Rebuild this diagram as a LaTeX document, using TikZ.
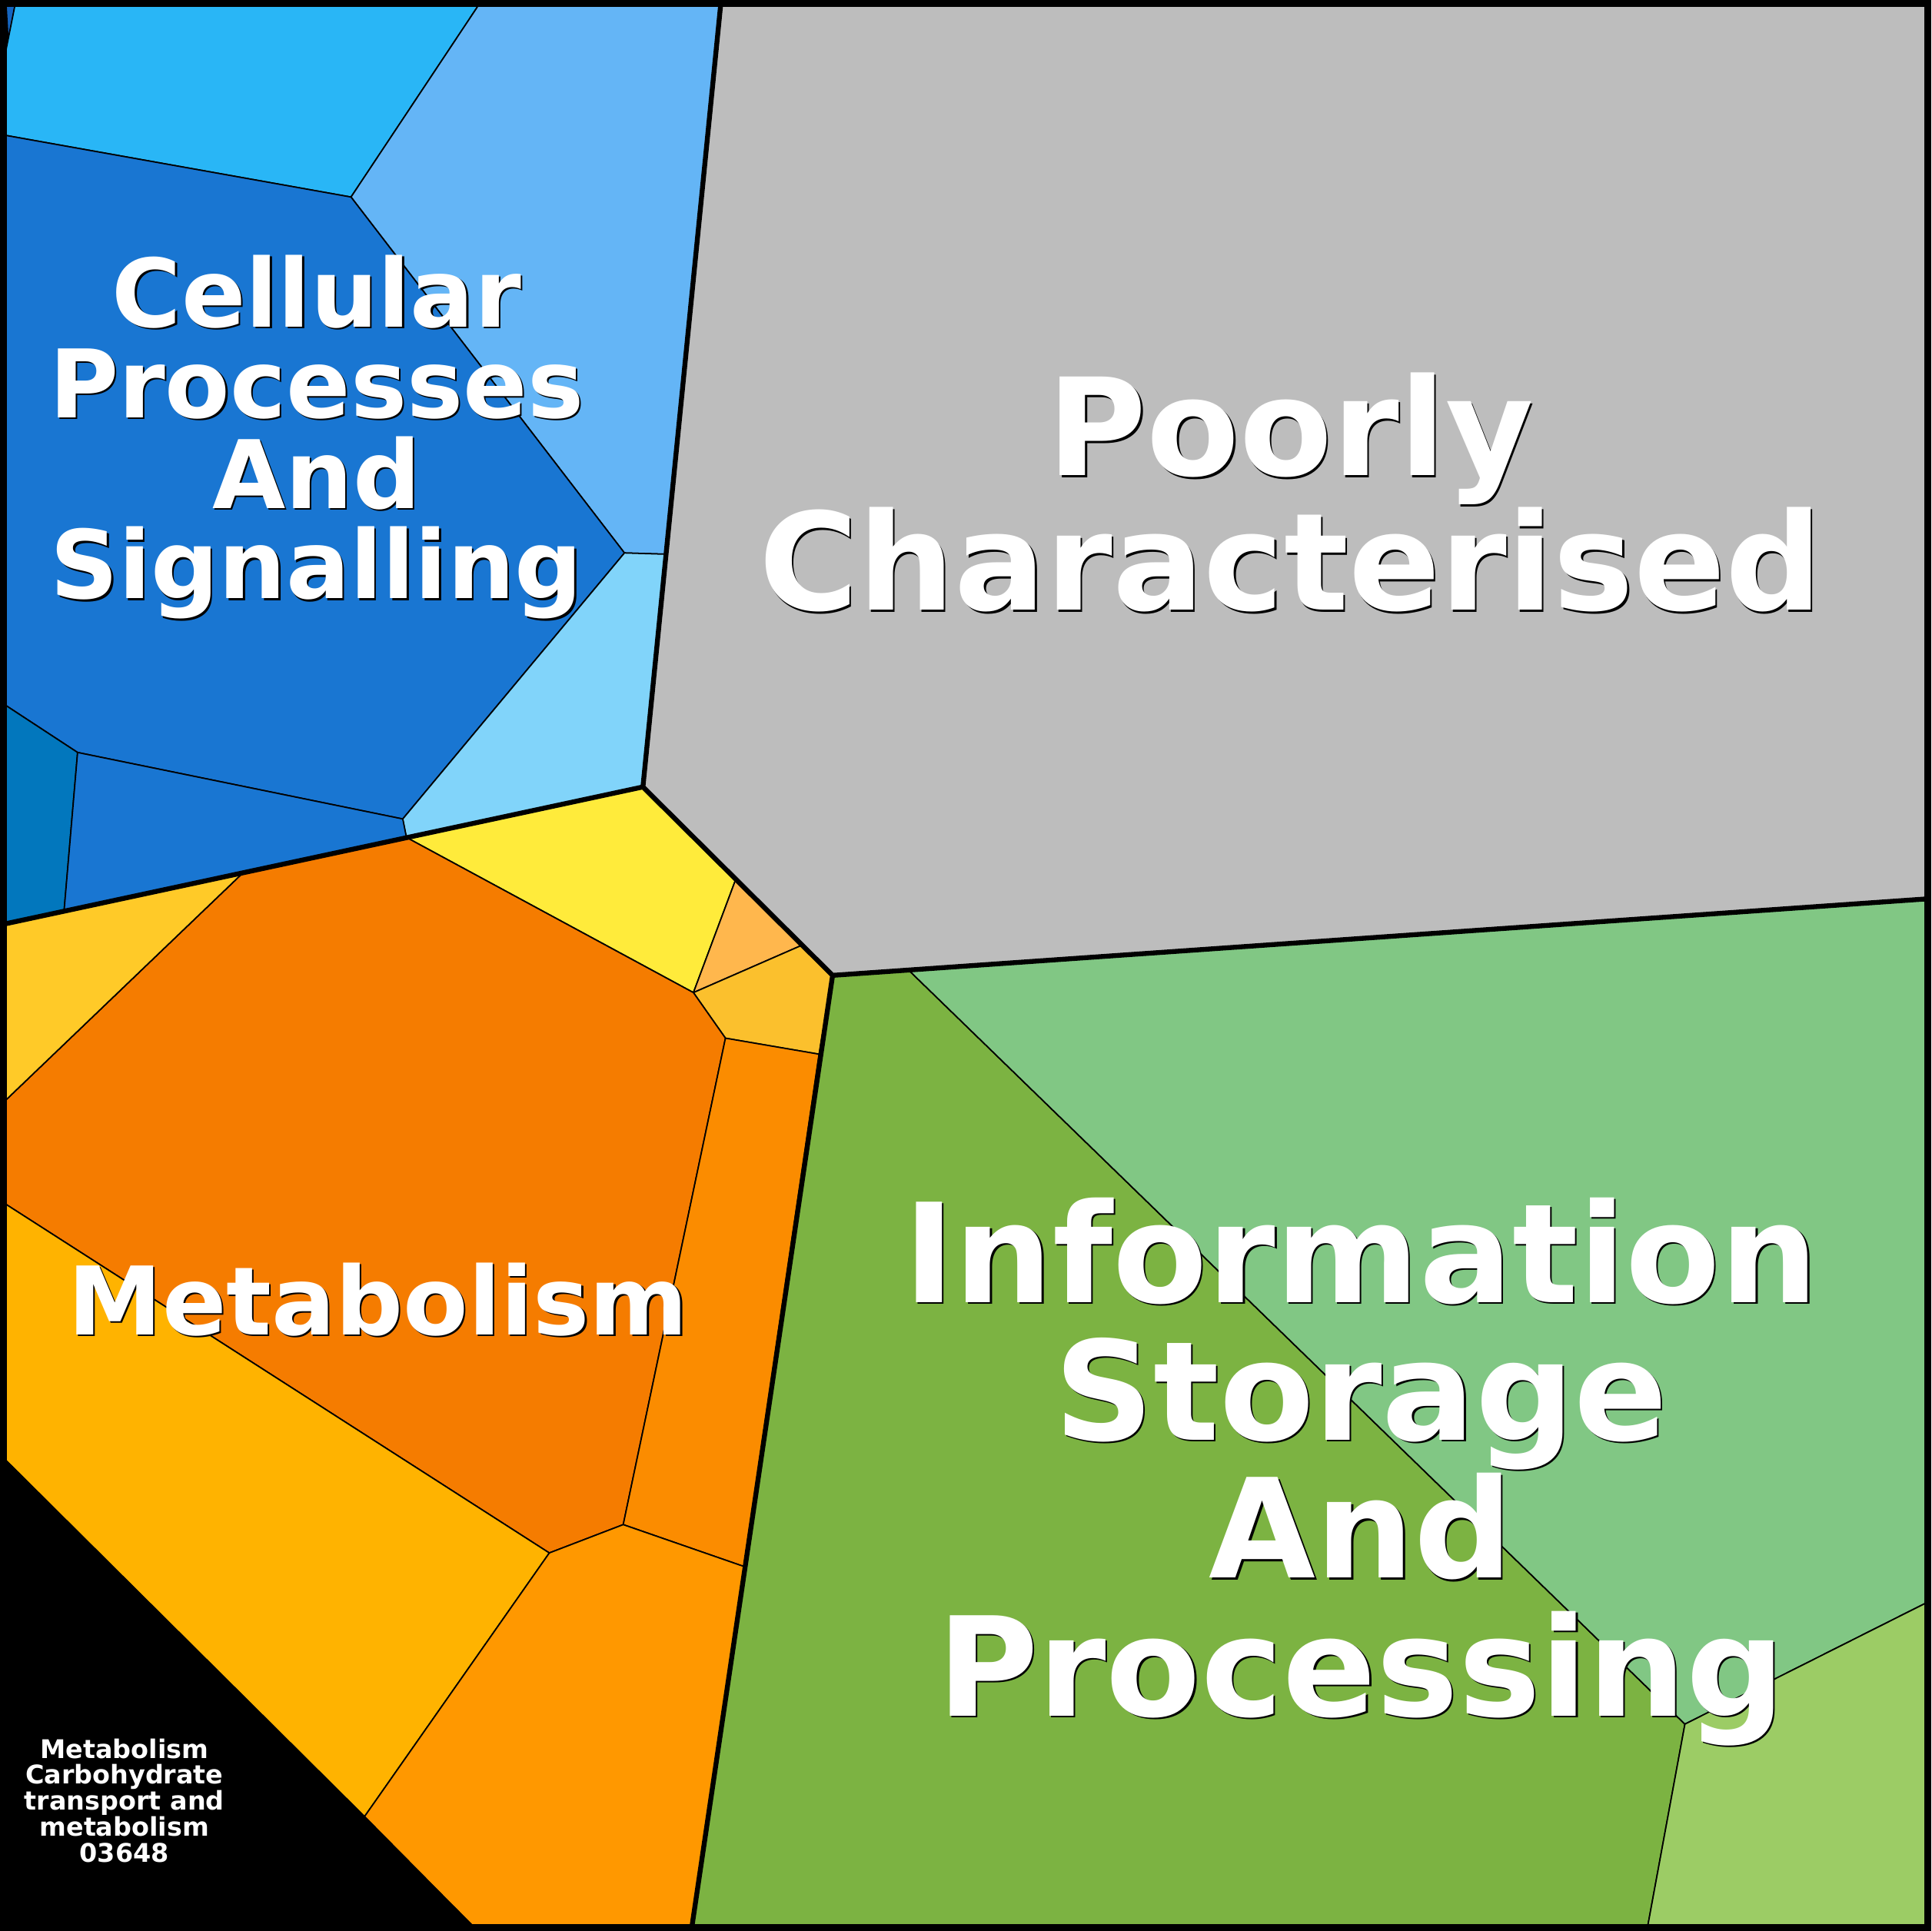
\documentclass[tikz,border=0pt]{standalone}
\usepackage{fontspec}
\setmainfont{DejaVu Sans}
\begin{document}
\begin{tikzpicture}[x=0.016cm,y=-0.016cm,
  cell/.style={draw=black,line width=0.5pt},
  thick/.style={draw=black,line width=1.8pt},
  lbl/.style={align=center,inner sep=0pt,font=\bfseries}]
\useasboundingbox (0,0) rectangle (1568,1568);
\definecolor{c1}{HTML}{1565C0}
\definecolor{c2}{HTML}{29B6F6}
\definecolor{c3}{HTML}{64B5F6}
\definecolor{c4}{HTML}{1976D2}
\definecolor{c5}{HTML}{81D4FA}
\definecolor{c6}{HTML}{0277BD}
\definecolor{c8}{HTML}{BDBDBD}
\definecolor{c9}{HTML}{FFEB3B}
\definecolor{c10}{HTML}{FFB74D}
\definecolor{c11}{HTML}{FBC02D}
\definecolor{c12}{HTML}{F57C00}
\definecolor{c13}{HTML}{FFCA28}
\definecolor{c14}{HTML}{FB8C00}
\definecolor{c15}{HTML}{FFB300}
\definecolor{c16}{HTML}{FF9800}
\definecolor{c18}{HTML}{7CB342}
\definecolor{c19}{HTML}{81C784}
\definecolor{c20}{HTML}{9CCC65}
\fill[black] (0,0) rectangle (1568,1568);
\path[cell,fill=c1] (5,5)--(12,5)--(7,40)--cycle;
\path[cell,fill=c2] (12,5)--(388,5)--(285,160)--(5,110)--(5,40)--cycle;
\path[cell,fill=c3] (388,5)--(585,5)--(540,450)--(507,449)--(285,160)--cycle;
\path[cell,fill=c4] (5,110)--(285,160)--(507,449)--(327,665)--(63,611)--(5,573)--cycle;
\path[cell,fill=c5] (507,449)--(540,450)--(522,639)--(330,680)--(327,665)--cycle;
\path[cell,fill=c6] (5,573)--(63,611)--(52,740)--(5,750)--cycle;
\path[cell,fill=c4] (63,611)--(327,665)--(330,680)--(52,740)--cycle;
\path[cell,fill=c8] (585,5)--(1563,5)--(1563,730)--(676,792)--(522,639)--cycle;
\path[cell,fill=c9] (330,680)--(522,639)--(597,715)--(563,806)--cycle;
\path[cell,fill=c10] (597,715)--(650,768)--(563,806)--cycle;
\path[cell,fill=c11] (650,768)--(676,792)--(665,856)--(589,843)--(563,806)--cycle;
\path[cell,fill=c12] (197,709)--(330,680)--(563,806)--(589,843)--(506,1238)--(446,1261)--(5,978)--(5,893)--cycle;
\path[cell,fill=c13] (5,750)--(197,709)--(5,893)--cycle;
\path[cell,fill=c14] (589,843)--(665,856)--(604,1272)--(506,1238)--cycle;
\path[cell,fill=c15] (5,978)--(446,1261)--(296,1475)--(5,1186)--cycle;
\path[cell,fill=c16] (446,1261)--(506,1238)--(604,1272)--(562,1563)--(383,1563)--(296,1475)--cycle;
\path[cell,fill=black] (5,1186)--(383,1563)--(5,1563)--cycle;
\path[cell,fill=c18] (676,792)--(738,788)--(1368,1400)--(1338,1563)--(562,1563)--cycle;
\path[cell,fill=c19] (738,788)--(1563,730)--(1563,1302)--(1368,1400)--cycle;
\path[cell,fill=c20] (1368,1400)--(1563,1302)--(1563,1563)--(1338,1563)--cycle;
\draw[thick] (5,750)--(522,639)--(676,792)--(562,1563);
\draw[thick] (522,639)--(585,5);
\draw[thick] (676,792)--(1563,730);
\draw[black,line width=2.6pt] (3,3) rectangle (1565,1565);
\foreach \dx/\col in {1.5/black,0/white}{
\node[lbl,text=\col,font=\bfseries\fontsize{35}{33.5}\selectfont] (cps\col) at (257+\dx,355+\dx) {Cellular\\Processes\\And\\Signalling};
\node[lbl,text=\col,font=\bfseries\fontsize{50}{45}\selectfont] (pc\col) at (1048+\dx,400+\dx) {Poorly\\Characterised};
\node[lbl,text=\col,font=\bfseries\fontsize{51}{51}\selectfont] (isp\col) at (1105+\dx,1195+\dx) {Information\\Storage\\And\\Processing};
\node[lbl,text=\col,font=\bfseries\fontsize{35}{35}\selectfont] (met\col) at (307+\dx,1055+\dx) {Metabolism};
}
\node[lbl,text=white,font=\bfseries\fontsize{9.5}{9.6}\selectfont] (small) at (101,1462) {Metabolism\\Carbohydrate\\transport and\\metabolism\\03648};
\end{tikzpicture}
\end{document}
